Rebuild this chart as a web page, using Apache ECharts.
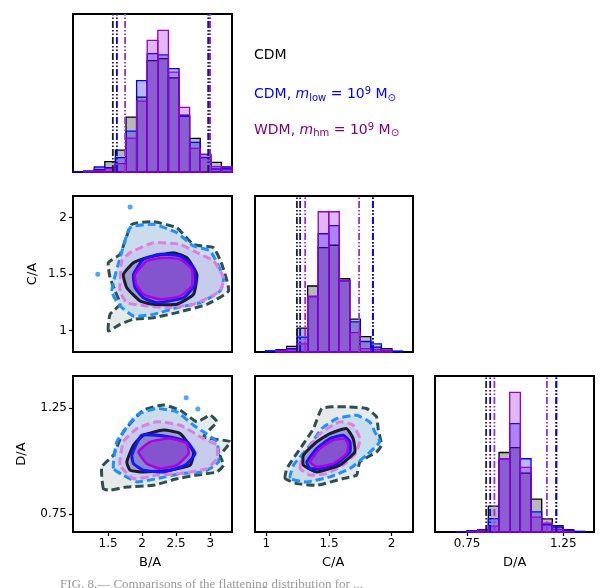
<!DOCTYPE html>
<html><head><meta charset="utf-8">
<script src="https://cdn.jsdelivr.net/npm/echarts@6/dist/echarts.min.js"></script>
<style>html,body{margin:0;background:#fff}#c{width:608px;height:588px}</style>
</head><body><div id="c"></div>
<script>
// ---------- data ----------
const baStart = 0.985, baWidth = 0.1557;
const baCDM  = [1,2,8,31,66,165,225,335,341,283,171,101,53,29,12];
const baLow  = [1,3,15,13,43,123,275,356,352,311,167,89,43,9,9];
const baWDM  = [0,1,5,10,25,102,213,396,426,300,194,71,53,16,16];
const caStart = 0.91, caWidth = 0.084;
const caCDM  = [0,3,7,17,73,201,318,325,223,100,47,15,10,0,0];
const caLow  = [0,3,5,10,45,169,360,385,217,92,32,25,5,3,0];
const caWDM  = [0,0,4,7,25,169,427,427,217,59,10,7,5,0,0];
const daStart = 0.583, daWidth = 0.0555;
const daCDM  = [0,0,1,2,7,79,242,257,179,100,40,19,5,2,0];
const daLow  = [0,0,1,4,7,41,223,330,223,61,22,15,7,1,0];
const daWDM  = [0,0,0,1,5,18,223,425,197,45,27,8,2,0,0];
const baLines = {cdm:[1.57,2.97], low:[1.63,2.99], wdm:[1.75,3.0]};
const caLines = {cdm:[1.244,1.85], low:[1.27,1.85], wdm:[1.31,1.74]};
const daLines = {cdm:[0.849,1.214], low:[0.87,1.214], wdm:[0.892,1.165]};
const baTicks = [1.5,2,2.5,3];
const caTicksY = [1,1.5,2];
const caTicksX = [1,1.5,2];
const daTicks = [0.75,1.25];
// contours: B/A vs C/A
const p1 = {
 cdmOut:[[1.504,0.996],[1.529,1.144],[1.676,1.232],[1.603,1.35],[1.529,1.467],[1.504,1.6],[1.676,1.674],[1.849,1.939],[2.167,1.962],[2.51,1.909],[2.755,1.761],[3.049,1.732],[3.172,1.585],[3.269,1.35],[2.951,1.232],[2.51,1.158],[2.167,1.113],[1.873,1.099],[1.676,1.055]],
 lowOut:[[1.554,1.35],[1.676,1.644],[1.824,1.91],[2.167,1.94],[2.51,1.866],[2.755,1.748],[3.0,1.704],[3.196,1.467],[3.147,1.35],[2.853,1.246],[2.51,1.202],[2.167,1.143],[1.873,1.128],[1.652,1.232]],
 wdmOut:[[1.676,1.35],[1.701,1.615],[1.824,1.689],[2.167,1.777],[2.559,1.763],[2.755,1.704],[3.049,1.615],[3.196,1.467],[3.147,1.35],[2.755,1.232],[2.363,1.202],[2.069,1.217],[1.775,1.246]],
 cdmIn:[[1.725,1.497],[1.873,1.6],[2.069,1.644],[2.46,1.689],[2.657,1.644],[2.804,1.497],[2.755,1.32],[2.51,1.232],[2.167,1.232],[1.971,1.261],[1.775,1.379]],
 lowIn:[[1.873,1.497],[2.02,1.63],[2.265,1.674],[2.559,1.659],[2.755,1.556],[2.779,1.409],[2.608,1.29],[2.216,1.246],[2.02,1.29],[1.897,1.379]],
 wdmIn:[[1.897,1.497],[2.069,1.615],[2.313,1.644],[2.559,1.63],[2.73,1.542],[2.73,1.394],[2.559,1.305],[2.265,1.276],[2.02,1.32],[1.912,1.409]],
 dots:[[1.824,2.093],[1.349,1.497]]
};
// B/A vs D/A
const p3 = {
 cdmOut:[[1.431,0.869],[1.407,0.972],[1.578,1.027],[1.725,1.137],[2.02,1.239],[2.313,1.263],[2.559,1.239],[2.804,1.184],[3.0,1.215],[3.098,1.184],[2.902,1.113],[3.294,1.09],[3.147,1.027],[3.196,0.98],[3.098,0.948],[2.804,0.933],[2.51,0.916],[2.167,0.885],[1.775,0.877],[1.529,0.862]],
 lowOut:[[1.578,0.964],[1.628,1.09],[1.922,1.216],[2.216,1.247],[2.51,1.231],[2.755,1.168],[2.902,1.137],[3.098,1.09],[3.122,0.995],[2.902,0.948],[2.559,0.94],[2.216,0.916],[1.922,0.901],[1.725,0.933]],
 wdmOut:[[1.676,0.98],[1.725,1.09],[1.922,1.152],[2.216,1.184],[2.559,1.168],[2.902,1.105],[3.098,1.074],[3.098,1.011],[2.951,0.964],[2.559,0.94],[2.216,0.933],[1.873,0.916]],
 cdmIn:[[1.775,0.995],[1.873,1.074],[2.02,1.121],[2.313,1.145],[2.559,1.129],[2.755,1.042],[2.706,0.98],[2.412,0.956],[2.02,0.948],[1.824,0.956]],
 lowIn:[[1.849,1.027],[1.996,1.121],[2.412,1.113],[2.657,1.09],[2.779,1.034],[2.632,0.98],[2.313,0.948],[2.02,0.956],[1.873,0.987]],
 wdmIn:[[1.946,1.042],[2.118,1.09],[2.412,1.105],[2.657,1.082],[2.681,1.034],[2.51,0.98],[2.265,0.964],[2.069,0.987]],
 dots:[[2.647,1.297],[2.819,1.244]]
};
// C/A vs D/A
const p4 = {
 cdmOut:[[1.151,0.917],[1.164,0.964],[1.27,1.058],[1.376,1.152],[1.442,1.247],[1.535,1.255],[1.641,1.255],[1.799,1.247],[1.879,1.208],[1.892,1.152],[1.918,1.074],[1.879,1.042],[1.746,0.995],[1.72,0.933],[1.614,0.917],[1.403,0.885],[1.244,0.893]],
 lowOut:[[1.19,0.917],[1.217,0.98],[1.349,1.074],[1.442,1.152],[1.561,1.199],[1.72,1.215],[1.825,1.184],[1.865,1.137],[1.905,1.09],[1.799,1.027],[1.667,0.964],[1.508,0.925],[1.323,0.901]],
 wdmOut:[[1.27,0.964],[1.296,1.027],[1.429,1.129],[1.587,1.184],[1.693,1.168],[1.746,1.105],[1.72,1.042],[1.614,0.98],[1.482,0.94],[1.349,0.933]],
 cdmIn:[[1.296,0.98],[1.296,1.027],[1.402,1.09],[1.508,1.129],[1.64,1.152],[1.693,1.105],[1.706,1.042],[1.587,0.98],[1.402,0.948]],
 lowIn:[[1.323,0.995],[1.402,1.058],[1.508,1.105],[1.614,1.121],[1.667,1.09],[1.667,1.042],[1.561,0.987],[1.429,0.964],[1.349,0.964]],
 wdmIn:[[1.349,0.995],[1.429,1.058],[1.534,1.098],[1.627,1.105],[1.653,1.074],[1.64,1.034],[1.534,0.987],[1.402,0.972]],
 dots:[]
};
// ---------- styles ----------
const C = {
 cdm:{edge:'#000', fill:'rgba(0,0,0,0.28)', line:'#222'},
 low:{edge:'#0000ff', fill:'rgba(0,0,255,0.28)', line:'#0000ff'},
 wdm:{edge:'#9400d3', fill:'rgba(148,0,211,0.28)', line:'#9932cc'}
};
const ranges = {ba:[0.985,3.32], caY:[0.81,2.19], caX:[0.91,2.17], da:[0.665,1.40], daX:[0.583,1.41]};
const grids = [
 {left:73,top:14,width:159,height:158},
 {left:73,top:196,width:159,height:156},
 {left:255,top:196,width:158,height:156},
 {left:73,top:376,width:159,height:156},
 {left:255,top:376,width:158,height:156},
 {left:435,top:376,width:159,height:156}
].map(g=>Object.assign(g,{show:true,borderColor:'#000',borderWidth:2,backgroundColor:'#fff'}));
const font = {fontFamily:'DejaVu Sans',fontSize:12,color:'#000'};
function xAx(gi,r,ticks){
 const lab = !!ticks;
 return {type:'value',gridIndex:gi,min:r[0],max:r[1],splitLine:{show:false},axisLine:{show:false},
  axisTick:{show:lab,customValues:ticks||[],length:4,lineStyle:{color:'#000',width:1.2}},
  axisLabel:Object.assign({show:lab,customValues:ticks||[],margin:6},font)};
}
function yAx(gi,r,ticks){
 const a = xAx(gi,r,ticks); return a;
}
const HMAX = 475;
const xAxis = [xAx(0,ranges.ba), xAx(1,ranges.ba), xAx(2,ranges.caX), xAx(3,ranges.ba,baTicks), xAx(4,ranges.caX,caTicksX), xAx(5,ranges.daX,[0.75,1.25])];
const yAxis = [yAx(0,[0,HMAX]), yAx(1,ranges.caY,caTicksY), yAx(2,[0,HMAX]), yAx(3,ranges.da,daTicks), yAx(4,ranges.da), yAx(5,[0,HMAX])];
const series = [];
function hist(gi,start,w,vals,st){
 series.push({type:'custom',xAxisIndex:gi,yAxisIndex:gi,data:vals.map((v,i)=>[start+i*w,start+(i+1)*w,v]),
  renderItem:(p,api)=>{const h=api.value(2); if(!h) return; const a=api.coord([api.value(0),h]),b=api.coord([api.value(1),0]);
   return {type:'rect',shape:{x:a[0],y:a[1],width:b[0]-a[0],height:b[1]-a[1]},style:{fill:st.fill,stroke:st.edge,lineWidth:1.3}};}});
}
function vlines(gi,vals,st){
 series.push({type:'custom',xAxisIndex:gi,yAxisIndex:gi,data:vals.map(v=>[v]),z:5,
  renderItem:(p,api)=>{const a=api.coord([api.value(0),0]),b=api.coord([api.value(0),HMAX]);
   return {type:'line',shape:{x1:a[0],y1:a[1],x2:b[0],y2:b[1]},style:{stroke:st.line,lineWidth:1.8,lineDash:[7,2,1.5,2,1.5,2]}};}});
}
function poly(gi,pts,stroke,fill,dashed,lw){
 series.push({type:'custom',xAxisIndex:gi,yAxisIndex:gi,data:pts,
  renderItem:(p,api)=>{if(p.dataIndex!==0) return; const pp=pts.map(d=>api.coord(d));
   return {type:'polygon',shape:{points:pp,smooth:0.15},style:{fill:fill,stroke:stroke,lineWidth:lw,lineDash:dashed?[8,4]:null}};}});
}
function contours(gi,P){
 poly(gi,P.cdmOut,'#2f4f4f','rgba(47,79,79,0.12)',true,3);
 poly(gi,P.lowOut,'#1e90ff','rgba(30,144,255,0.14)',true,3);
 poly(gi,P.wdmOut,'#e07ee0','rgba(190,120,230,0.16)',true,3);
 poly(gi,P.cdmIn,'#1c1c30','rgba(40,30,80,0.25)',false,3);
 poly(gi,P.lowIn,'#1515ff','rgba(0,0,255,0.15)',false,3);
 poly(gi,P.wdmIn,'#b000e0','rgba(130,40,210,0.55)',false,2.5);
 if(P.dots.length) series.push({type:'scatter',xAxisIndex:gi,yAxisIndex:gi,data:P.dots,symbolSize:5,itemStyle:{color:'#1e90ff'}});
}
[[0,baStart,baWidth,baCDM,baLow,baWDM,baLines],[2,caStart,caWidth,caCDM,caLow,caWDM,caLines],[5,daStart,daWidth,daCDM,daLow,daWDM,daLines]].forEach(([g,s,w,a,b,c,L])=>{
 hist(g,s,w,a,C.cdm); hist(g,s,w,b,C.low); hist(g,s,w,c,C.wdm);
 vlines(g,L.cdm,C.cdm); vlines(g,L.low,C.low); vlines(g,L.wdm,C.wdm);
});
contours(1,p1); contours(3,p3); contours(4,p4);
const tf = 'DejaVu Sans';
const graphic = [
 {type:'text',left:254,top:48,style:{text:'CDM',font:'14px '+tf,fill:'#000'}},
 {type:'text',left:254,top:86,style:{text:'CDM, {i|m}{s|low} = 10{p|9} M{s|⊙}',font:'14px '+tf,fill:'#0000ff',
   rich:{i:{font:'italic 14px '+tf,fill:'#0000ff'},s:{font:'10px '+tf,fill:'#0000ff',verticalAlign:'bottom',padding:[6,0,0,0]},p:{font:'10px '+tf,fill:'#0000ff',padding:[0,0,7,0]}}}},
 {type:'text',left:254,top:122,style:{text:'WDM, {i|m}{s|hm} = 10{p|9} M{s|⊙}',font:'14px '+tf,fill:'#800080',
   rich:{i:{font:'italic 14px '+tf,fill:'#800080'},s:{font:'10px '+tf,fill:'#800080',padding:[6,0,0,0]},p:{font:'10px '+tf,fill:'#800080',padding:[0,0,7,0]}}}},
 {type:'text',left:139,top:556,style:{text:'B/A',font:'13px '+tf,fill:'#000'}},
 {type:'text',left:322,top:556,style:{text:'C/A',font:'13px '+tf,fill:'#000'}},
 {type:'text',left:503,top:556,style:{text:'D/A',font:'13px '+tf,fill:'#000'}},
 {type:'text',x:33,y:274,rotation:Math.PI/2,style:{text:'C/A',font:'13px '+tf,fill:'#000',align:'center',verticalAlign:'middle'}},
 {type:'text',x:22,y:454,rotation:Math.PI/2,style:{text:'D/A',font:'13px '+tf,fill:'#000',align:'center',verticalAlign:'middle'}},
 {type:'text',left:60,top:578,style:{text:'FIG. 8.— Comparisons of the flattening distribution for ...',font:'13px Liberation Serif',fill:'#999'}}
];
const chart = echarts.init(document.getElementById('c'));
chart.setOption({animation:false,grid:grids,xAxis,yAxis,series,graphic});
</script></body></html>
